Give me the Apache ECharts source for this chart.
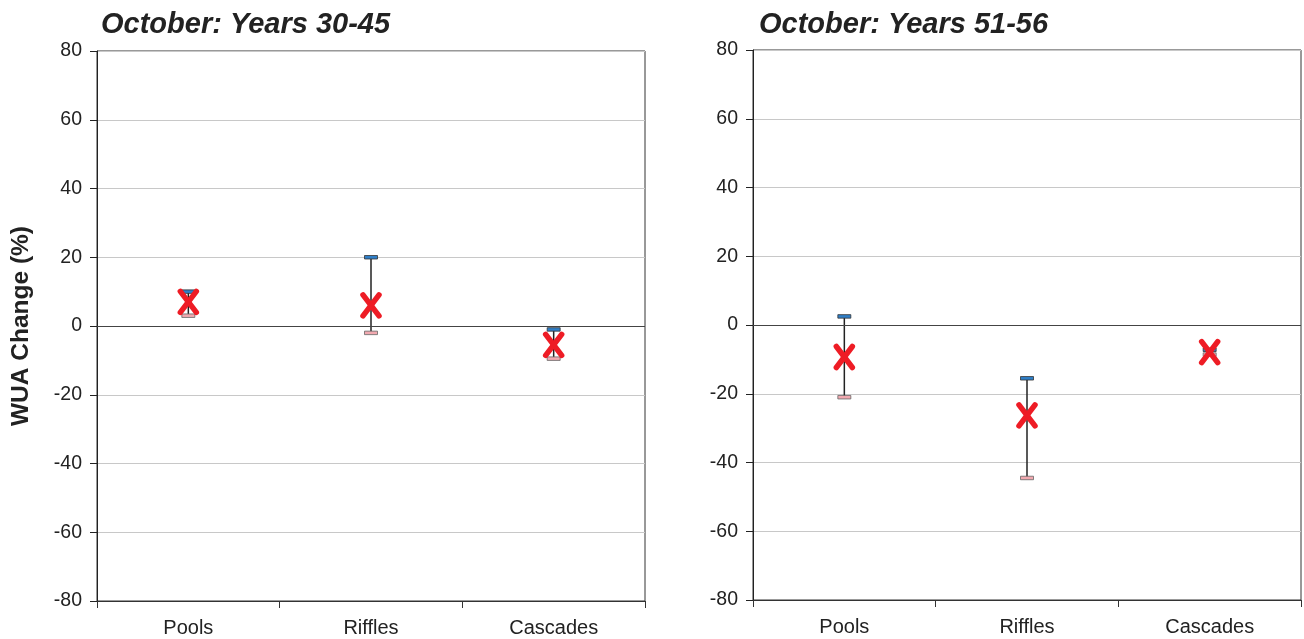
<!DOCTYPE html>
<html><head><meta charset="utf-8">
<script src="https://cdn.jsdelivr.net/npm/echarts@6/dist/echarts.min.js"></script>
<style>html,body{margin:0;padding:0;background:#fff}#c{width:1304px;height:639px}</style>
</head><body><div id="c"></div>
<script>
var categories = ['Pools', 'Riffles', 'Cascades'];
var yTicks = [-80, -60, -40, -20, 0, 20, 40, 60, 80];
var titles = ['October: Years 30-45', 'October: Years 51-56'];
// Years 30-45
var meanA = [7, 6, -5.5];
var upperA = [10, 20, -1];
var lowerA = [3, -2, -9.5];
// Years 51-56
var meanB = [-9.3, -26.3, -7.9];
var upperB = [2.5, -15.5, -7.2];
var lowerB = [-21, -44.5, -8.6];

var FONT = '"Liberation Sans", Arial, sans-serif';
var chart = echarts.init(document.getElementById('c'));

function errData(up, lo) { return categories.map(function (c, i) { return [i, up[i], lo[i]]; }); }
function meanData(m) { return categories.map(function (c, i) { return [i, m[i]]; }); }

function errRender(params, api) {
  var top = api.coord([api.value(0), api.value(1)]);
  var bot = api.coord([api.value(0), api.value(2)]);
  var w = 13, h = 3.5;
  return {
    type: 'group', children: [
      { type: 'line', shape: { x1: top[0], y1: top[1], x2: bot[0], y2: bot[1] }, style: { stroke: '#222', lineWidth: 1.5 } },
      { type: 'rect', shape: { x: top[0] - w / 2, y: top[1] - h / 2, width: w, height: h }, style: { fill: '#2f7fc8', stroke: '#333', lineWidth: 0.8 } },
      { type: 'rect', shape: { x: bot[0] - w / 2, y: bot[1] - h / 2, width: w, height: h }, style: { fill: '#f2a9b0', stroke: '#666', lineWidth: 0.8 } }
    ]
  };
}
function xRender(params, api) {
  var p = api.coord([api.value(0), api.value(1)]);
  var hw = 8, hh = 10.5;
  var st = { stroke: '#ee1c25', lineWidth: 5.5, lineCap: 'round' };
  return {
    type: 'group', children: [
      { type: 'line', shape: { x1: p[0] - hw, y1: p[1] - hh, x2: p[0] + hw, y2: p[1] + hh }, style: st },
      { type: 'line', shape: { x1: p[0] + hw, y1: p[1] - hh, x2: p[0] - hw, y2: p[1] + hh }, style: st }
    ]
  };
}

function xAxisCfg(gi) {
  return {
    type: 'category', gridIndex: gi, data: categories, boundaryGap: true,
    axisLine: { show: true, onZero: false, lineStyle: { color: '#333', width: 1 } },
    axisTick: { show: true, length: 7, lineStyle: { color: '#333' } },
    axisLabel: { fontSize: 20, color: '#222', fontFamily: FONT, margin: 17 },
    splitLine: { show: false }
  };
}
function yAxisCfg(gi, withName) {
  var cfg = {
    type: 'value', gridIndex: gi, min: yTicks[0], max: yTicks[yTicks.length - 1], interval: 20,
    axisLine: { show: true, lineStyle: { color: '#222', width: 1 } },
    axisTick: { show: true, length: 7, lineStyle: { color: '#222' } },
    axisLabel: { fontSize: 19.5, color: '#222', fontFamily: FONT, margin: 15 },
    splitLine: { show: true, lineStyle: { color: '#c8c8c8', width: 1 } }
  };
  if (withName) {
    cfg.name = 'WUA Change (%)';
    cfg.nameLocation = 'middle';
    cfg.nameGap = 63;
    cfg.nameRotate = 90;
    cfg.nameTextStyle = { fontSize: 24.5, fontWeight: 'bold', color: '#222', fontFamily: FONT };
  }
  return cfg;
}
function zeroLine() {
  return {
    silent: true, symbol: 'none', label: { show: false },
    lineStyle: { color: '#444', width: 1, type: 'solid' },
    data: [{ yAxis: 0 }]
  };
}
function titleText(txt, x) {
  return {
    type: 'text', x: x, y: 25, silent: true,
    style: { text: txt, fontSize: 29, fontWeight: 'bold', fontStyle: 'italic', fill: '#222', fontFamily: FONT, align: 'left', verticalAlign: 'middle' }
  };
}

chart.setOption({
  animation: false,
  backgroundColor: '#fff',
  graphic: [titleText(titles[0], 101), titleText(titles[1], 759)],
  grid: [
    { left: 97, right: 659, top: 51, bottom: 38, show: true, borderColor: '#333', borderWidth: 1, containLabel: false },
    { left: 753, right: 3, top: 50, bottom: 39, show: true, borderColor: '#333', borderWidth: 1, containLabel: false }
  ],
  xAxis: [xAxisCfg(0), xAxisCfg(1)],
  yAxis: [yAxisCfg(0, true), yAxisCfg(1, false)],
  series: [
    { type: 'custom', xAxisIndex: 0, yAxisIndex: 0, data: errData(upperA, lowerA), renderItem: errRender, markLine: zeroLine(), z: 3 },
    { type: 'custom', xAxisIndex: 0, yAxisIndex: 0, data: meanData(meanA), renderItem: xRender, z: 5 },
    { type: 'custom', xAxisIndex: 1, yAxisIndex: 1, data: errData(upperB, lowerB), renderItem: errRender, markLine: zeroLine(), z: 3 },
    { type: 'custom', xAxisIndex: 1, yAxisIndex: 1, data: meanData(meanB), renderItem: xRender, z: 5 }
  ]
});
</script></body></html>
